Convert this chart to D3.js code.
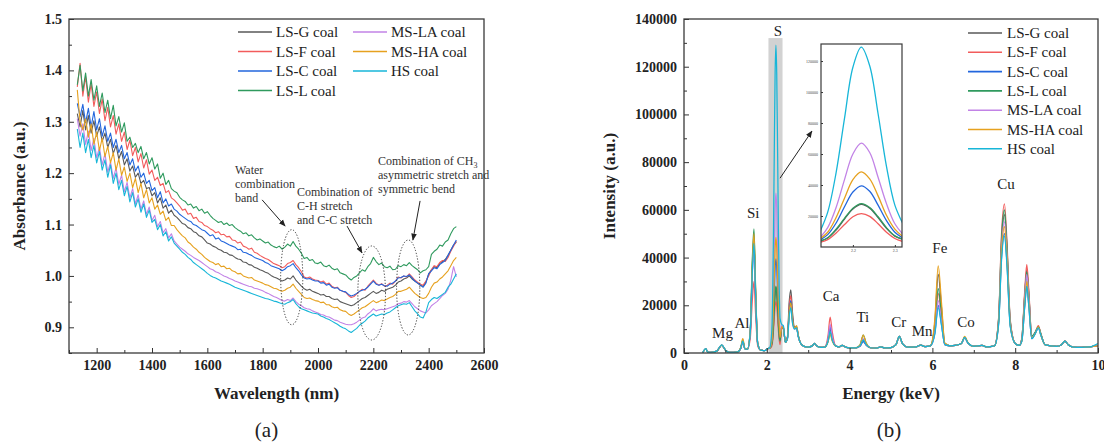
<!DOCTYPE html>
<html>
<head>
<meta charset="utf-8">
<script src="https://cdn.jsdelivr.net/npm/d3@7"></script>
<style>
  body { margin: 0; background: #fff; }
  svg { display: block; font-family: "Liberation Serif", "Times New Roman", serif; }
</style>
</head>
<body>
<div id="chart"></div>
<script>
const serif = "'Liberation Serif', 'Times New Roman', serif";

// ---------- shared series info ----------
const seriesNames = ["LS-G coal", "LS-F coal", "LS-C coal", "LS-L coal", "MS-LA coal", "MS-HA coal", "HS coal"];
const seriesColors = ["#595959", "#f25c5c", "#2266dd", "#2f9a5e", "#c283e6", "#e6a11f", "#17b6d8"];

// ---------- panel (a): NIR absorbance, sampled every 10 nm from 1130 to 2500 ----------
const wavelengths = d3.range(1130, 2501, 10);
const absLSG = [1.316,1.29,1.322,1.284,1.312,1.278,1.302,1.272,1.29,1.262,1.278,1.25,1.266,1.238,1.254,1.228,1.242,1.216,1.228,1.204,1.214,1.192,1.2,1.18,1.186,1.17,1.172,1.156,1.162,1.142,1.152,1.132,1.138,1.122,1.128,1.118,1.114,1.108,1.102,1.1,1.094,1.092,1.086,1.084,1.078,1.076,1.07,1.064,1.062,1.058,1.056,1.052,1.05,1.046,1.045,1.041,1.04,1.036,1.033,1.032,1.027,1.026,1.022,1.021,1.017,1.015,1.012,1.01,1.007,1.005,1.001,0.998,0.996,0.993,0.99,0.992,0.996,0.994,1.0,0.992,0.986,0.98,0.975,0.972,0.974,0.97,0.968,0.966,0.963,0.964,0.96,0.96,0.956,0.954,0.955,0.95,0.948,0.946,0.944,0.942,0.944,0.948,0.952,0.956,0.958,0.962,0.966,0.97,0.966,0.968,0.972,0.97,0.974,0.976,0.978,0.982,0.988,0.99,0.994,0.996,1.0,0.994,0.99,0.986,0.982,0.98,0.988,1.004,1.012,1.018,1.016,1.024,1.028,1.032,1.04,1.05,1.06,1.066];
const absLSF = [1.368,1.414,1.35,1.388,1.338,1.374,1.33,1.358,1.316,1.344,1.302,1.328,1.29,1.312,1.276,1.296,1.262,1.28,1.246,1.264,1.234,1.25,1.222,1.238,1.21,1.226,1.198,1.206,1.186,1.192,1.176,1.18,1.162,1.166,1.152,1.148,1.142,1.136,1.128,1.13,1.12,1.122,1.112,1.114,1.106,1.104,1.098,1.096,1.092,1.089,1.084,1.086,1.08,1.081,1.076,1.077,1.07,1.069,1.064,1.066,1.058,1.056,1.052,1.054,1.046,1.044,1.04,1.037,1.034,1.032,1.028,1.024,1.022,1.02,1.016,1.018,1.024,1.026,1.03,1.022,1.016,1.008,0.998,0.996,0.998,0.994,0.992,0.991,0.988,0.99,0.984,0.986,0.98,0.977,0.978,0.972,0.97,0.968,0.962,0.958,0.96,0.965,0.97,0.974,0.972,0.98,0.986,0.992,0.986,0.982,0.985,0.98,0.982,0.986,0.984,0.99,0.998,0.996,1.0,0.998,1.004,0.998,0.992,0.988,0.984,0.982,0.99,1.0,1.012,1.02,1.018,1.026,1.03,1.028,1.036,1.048,1.058,1.068];
const absLSC = [1.336,1.31,1.334,1.298,1.326,1.29,1.32,1.284,1.306,1.272,1.292,1.262,1.278,1.25,1.266,1.24,1.254,1.228,1.24,1.216,1.228,1.204,1.214,1.192,1.2,1.18,1.186,1.166,1.172,1.152,1.164,1.142,1.15,1.136,1.14,1.13,1.126,1.12,1.116,1.112,1.108,1.106,1.1,1.098,1.094,1.09,1.088,1.083,1.078,1.08,1.072,1.074,1.068,1.066,1.063,1.06,1.058,1.056,1.051,1.052,1.046,1.045,1.042,1.04,1.036,1.034,1.032,1.03,1.026,1.024,1.02,1.018,1.016,1.014,1.01,1.013,1.018,1.02,1.024,1.016,1.01,1.002,0.996,0.994,0.995,0.992,0.99,0.99,0.986,0.987,0.982,0.984,0.978,0.976,0.977,0.972,0.97,0.969,0.964,0.961,0.963,0.966,0.97,0.972,0.974,0.978,0.984,0.99,0.984,0.982,0.984,0.981,0.98,0.984,0.986,0.99,0.996,0.997,1.0,0.999,1.002,0.996,0.99,0.986,0.982,0.978,0.986,1.004,1.01,1.016,1.014,1.022,1.026,1.03,1.04,1.05,1.06,1.07];
const absLSL = [1.372,1.41,1.36,1.395,1.35,1.382,1.342,1.37,1.33,1.356,1.318,1.342,1.306,1.332,1.292,1.31,1.28,1.298,1.262,1.27,1.25,1.258,1.24,1.252,1.228,1.24,1.218,1.23,1.208,1.218,1.19,1.2,1.178,1.186,1.17,1.165,1.162,1.153,1.148,1.145,1.138,1.14,1.132,1.135,1.127,1.13,1.122,1.125,1.118,1.112,1.108,1.104,1.106,1.1,1.103,1.098,1.1,1.094,1.09,1.087,1.082,1.084,1.078,1.08,1.074,1.07,1.072,1.068,1.064,1.066,1.06,1.057,1.055,1.058,1.052,1.056,1.062,1.058,1.067,1.058,1.052,1.044,1.034,1.036,1.03,1.032,1.025,1.024,1.027,1.02,1.018,1.021,1.015,1.012,1.014,1.006,1.004,1.002,0.996,0.992,0.997,1.0,1.006,1.012,1.009,1.018,1.024,1.036,1.028,1.022,1.025,1.018,1.016,1.019,1.012,1.013,1.02,1.018,1.022,1.02,1.026,1.02,1.016,1.012,1.006,1.01,1.012,1.018,1.042,1.048,1.052,1.06,1.058,1.066,1.07,1.082,1.092,1.096];
const absMSLA = [1.306,1.272,1.296,1.256,1.282,1.244,1.268,1.23,1.25,1.216,1.238,1.202,1.222,1.19,1.21,1.178,1.196,1.164,1.182,1.152,1.17,1.14,1.158,1.13,1.146,1.12,1.134,1.108,1.118,1.096,1.106,1.084,1.092,1.074,1.082,1.068,1.062,1.056,1.052,1.048,1.043,1.04,1.036,1.033,1.03,1.026,1.022,1.018,1.014,1.012,1.008,1.006,1.003,1.0,0.998,0.995,0.993,0.99,0.988,0.986,0.984,0.982,0.98,0.979,0.976,0.975,0.973,0.971,0.968,0.966,0.963,0.96,0.958,0.955,0.952,0.951,0.954,0.952,0.957,0.95,0.945,0.942,0.938,0.936,0.935,0.932,0.93,0.928,0.925,0.924,0.921,0.92,0.917,0.914,0.913,0.91,0.908,0.906,0.905,0.905,0.907,0.91,0.914,0.918,0.92,0.926,0.93,0.936,0.932,0.934,0.935,0.934,0.936,0.938,0.94,0.942,0.946,0.947,0.95,0.949,0.952,0.946,0.94,0.936,0.932,0.93,0.928,0.934,0.942,0.946,0.95,0.956,0.962,0.966,0.974,0.992,1.018,0.998];
const absMSHA = [1.362,1.3,1.284,1.306,1.27,1.296,1.256,1.28,1.244,1.268,1.232,1.252,1.22,1.24,1.206,1.228,1.196,1.212,1.184,1.2,1.172,1.19,1.162,1.18,1.152,1.168,1.142,1.152,1.13,1.138,1.12,1.126,1.108,1.114,1.098,1.098,1.09,1.084,1.078,1.074,1.066,1.062,1.056,1.052,1.046,1.042,1.036,1.032,1.028,1.026,1.022,1.024,1.018,1.019,1.014,1.015,1.01,1.008,1.004,1.005,1.0,0.998,0.996,0.997,0.992,0.99,0.988,0.986,0.983,0.982,0.979,0.976,0.975,0.972,0.97,0.972,0.976,0.978,0.984,0.976,0.97,0.964,0.958,0.956,0.957,0.954,0.952,0.951,0.948,0.949,0.944,0.944,0.94,0.938,0.939,0.934,0.932,0.931,0.926,0.923,0.926,0.93,0.934,0.938,0.94,0.944,0.948,0.952,0.948,0.95,0.953,0.952,0.955,0.958,0.96,0.964,0.97,0.97,0.972,0.974,0.978,0.972,0.966,0.962,0.958,0.956,0.958,0.966,0.978,0.986,0.988,0.994,0.998,1.004,1.01,1.02,1.03,1.036];
const absHS = [1.286,1.25,1.278,1.24,1.266,1.23,1.254,1.22,1.242,1.206,1.226,1.192,1.216,1.18,1.2,1.168,1.186,1.156,1.174,1.144,1.162,1.134,1.15,1.124,1.14,1.114,1.128,1.104,1.11,1.09,1.1,1.078,1.086,1.068,1.076,1.064,1.058,1.052,1.046,1.042,1.036,1.032,1.026,1.022,1.018,1.014,1.01,1.005,1.001,0.998,0.996,0.993,0.99,0.988,0.986,0.984,0.981,0.978,0.976,0.974,0.972,0.97,0.968,0.966,0.964,0.962,0.96,0.958,0.956,0.955,0.953,0.951,0.95,0.948,0.946,0.945,0.948,0.95,0.954,0.946,0.94,0.936,0.934,0.932,0.93,0.928,0.927,0.926,0.922,0.92,0.917,0.915,0.912,0.909,0.906,0.902,0.899,0.897,0.893,0.89,0.894,0.898,0.904,0.908,0.912,0.918,0.922,0.926,0.922,0.924,0.926,0.925,0.928,0.93,0.934,0.938,0.942,0.944,0.946,0.945,0.948,0.94,0.932,0.926,0.92,0.918,0.93,0.948,0.954,0.958,0.956,0.96,0.964,0.968,0.978,0.984,0.994,1.004];
const absSeries = [absLSG, absLSF, absLSC, absLSL, absMSLA, absMSHA, absHS];

const absXTicks = [1200, 1400, 1600, 1800, 2000, 2200, 2400, 2600];
const absXMinor = [1100, 1300, 1500, 1700, 1900, 2100, 2300, 2500];
const absYTicks = [0.9, 1.0, 1.1, 1.2, 1.3, 1.4, 1.5];
const absYMinor = [0.85, 0.95, 1.05, 1.15, 1.25, 1.35, 1.45];

// annotation anchors in data units (wavelength nm, absorbance)
const absNotes = [
  { lines: ["Water", "combination", "band"], at: [1700, 1.198] },
  { lines: ["Combination of", "C-H stretch", "and C-C stretch"], at: [1924, 1.156] },
  { lines: ["Combination of CH|3", "asymmetric stretch and", "symmetric bend"], at: [2217, 1.216] }
];
const absArrows = [
  [[1798, 1.148], [1881, 1.097]],
  [[2105, 1.097], [2159, 1.045]],
  [[2369, 1.146], [2343, 1.070]]
];
// dotted ellipses: centre (nm, abs), half-width (nm), half-height (abs)
const absEllipses = [
  [1905, 0.9975, 40, 0.0925],
  [2194, 0.9668, 50, 0.0915],
  [2326, 0.9775, 42, 0.0924]
];

// ---------- panel (b): EDS spectra ----------
const energy = [0.45,0.5,0.53,0.56,0.6,0.7,0.8,0.86,0.91,0.96,1.02,1.1,1.2,1.3,1.37,1.42,1.47,1.53,1.6,1.65,1.69,1.73,1.78,1.85,1.95,2.02,2.07,
  2.12,2.14,2.16,2.18,2.2,2.22,2.24,2.26,2.28,2.3,2.32,
  2.36,2.4,2.45,2.5,2.54,2.58,2.62,2.67,2.72,2.76,2.82,2.9,3.0,3.1,3.15,3.2,3.3,3.4,3.48,3.53,3.58,3.66,3.75,3.82,3.9,4.0,4.15,4.25,4.33,4.4,4.5,4.65,4.75,4.85,5.0,5.12,5.2,5.28,5.4,5.6,5.72,5.82,
  5.95,6.06,6.14,6.22,6.3,6.45,6.55,6.7,6.78,6.86,7.0,7.2,7.3,7.5,7.6,7.67,7.74,7.8,7.88,8.0,8.1,8.16,8.23,8.28,8.33,8.4,8.48,8.56,8.62,8.72,8.85,9.0,9.12,9.2,9.28,9.4,9.6,9.8,10.0];
const edsLSG = [0,1400,1700,600,300,400,900,2400,3300,2300,800,300,300,500,2000,5000,1800,1500,9000,36000,48000,25000,4000,1200,1000,1800,2000,
  3500,5800,11000,18000,24500,27500,25000,19000,12000,7000,4800,
  11000,10500,4500,7000,21000,26500,17000,11000,11000,7500,4000,2800,2500,3000,4000,3000,2400,2500,5500,10000,6000,3000,2600,3200,2500,2200,2200,3000,5500,3500,2200,2000,2600,2100,2300,3500,7000,3800,2500,2600,3300,2700,
  3000,13000,33000,19000,4000,3000,3200,4000,6500,4200,2800,3200,2600,3000,14000,46000,58000,44000,13000,4000,3200,6000,24500,35000,24500,7000,8500,11000,8000,3500,3000,2800,3500,5000,3500,2500,2400,2600,3000];
const edsLSF = [0,1400,1700,600,300,400,900,2400,3300,2300,800,300,300,500,1900,4500,1800,1500,6000,22000,30000,16000,3000,1200,1000,1800,1900,
  2800,4800,9000,14500,19500,21500,19800,15000,9500,5500,3500,
  10500,10000,4500,6500,19000,24000,15500,10500,10500,7000,4000,2800,2500,3000,4000,3000,2400,2500,7500,15000,9000,3000,2600,3200,2500,2200,2200,2800,5000,3300,2200,2000,2600,2100,2300,3500,7000,3800,2500,2600,3300,2700,
  3000,10000,25000,15000,3500,3000,3200,4000,6500,4200,2800,3200,2600,3000,15000,50000,62500,47000,14000,4000,3200,6000,26000,37000,26000,7000,8500,11500,8000,3500,3000,2800,3500,5000,3500,2500,2400,2600,3000];
const edsLSC = [0,1400,1700,600,300,400,900,2400,3300,2300,800,300,300,500,2000,5000,1800,1500,8500,34000,46000,24000,4000,1200,1000,1800,2000,
  4300,8000,15500,26000,35500,39500,36000,27000,17000,9500,5600,
  11000,10500,4500,6500,17000,22000,14500,10500,10500,7000,4000,2800,2500,3000,4000,3000,2400,2500,5500,11000,6500,3000,2600,3200,2500,2200,2200,2800,4800,3300,2200,2000,2600,2100,2300,3500,7000,3800,2500,2600,3300,2700,
  3000,8500,20000,12000,3500,3000,3200,4000,6500,4200,2800,3200,2600,3000,12500,40000,50000,38000,11500,4000,3200,5000,19500,28000,19500,6000,8000,10500,7500,3500,3000,2800,3500,5000,3500,2500,2400,2600,3000];
const edsLSL = [0,1400,1700,600,300,400,900,2400,3300,2300,800,300,300,500,2100,5500,1900,1500,9500,39000,52000,27000,4200,1200,1000,1800,2000,
  3700,6000,11500,18500,25000,28000,25500,19500,12500,7200,5000,
  11000,10500,4500,6500,16500,21000,14000,10500,10500,7000,4000,2800,2500,3000,4000,3000,2400,2500,4800,8500,5500,3000,2600,3200,2500,2200,2200,3300,7500,4200,2200,2000,2600,2100,2300,3500,7000,3800,2500,2600,3300,2700,
  3000,11000,27000,16000,3800,3000,3200,4000,6500,4200,2800,3200,2600,3000,14500,48000,60000,45000,13500,4000,3200,6000,24000,34000,24000,7000,8500,11000,8000,3500,3000,2800,3500,5000,3500,2500,2400,2600,3000];
const edsMSLA = [0,1400,1700,600,300,400,900,2400,3300,2300,800,300,300,500,2000,5000,1800,1500,8500,33000,45000,23500,4000,1200,1000,1800,2100,
  5500,12500,25500,43500,60000,67000,61000,45000,28000,15000,8000,
  11500,11000,4500,6000,15500,20000,13000,10000,10500,7000,4000,2800,2500,3000,4000,3000,2400,2500,6000,12000,7000,3000,2600,3200,2500,2200,2200,3000,6000,3600,2200,2000,2600,2100,2300,3500,7000,3800,2500,2600,3300,2700,
  3000,9000,22000,13000,3600,3000,3200,4000,6500,4200,2800,3200,2600,3000,13500,44000,55000,41500,12500,4000,3200,5500,23000,33000,23000,6500,8000,10500,7500,3500,3000,2800,3500,5000,3500,2500,2400,2600,3000];
const edsMSHA = [0,1400,1700,600,300,400,900,2400,3300,2300,800,300,300,500,2300,6000,2000,1500,9000,37000,50000,26000,4200,1200,1000,1800,2000,
  5000,9500,19000,31500,43500,48500,44000,33000,20500,11500,6500,
  11000,10500,4500,6500,16500,21000,14000,10500,11500,7500,4000,2800,2500,3000,4000,3000,2400,2500,4800,8000,5000,3000,2600,3200,2500,2200,2200,3300,7500,4200,2200,2000,2600,2100,2300,3500,7000,3800,2500,2600,3300,2700,
  3000,14500,36500,21000,4200,3000,3200,4000,7000,4400,2800,3200,2600,3000,13000,42500,53000,40000,12000,4000,3200,5000,21000,30000,21000,6500,8000,11000,7500,3500,3000,2800,3500,5000,3500,2500,2400,2600,3000];
const edsHS = [0,1500,1800,600,300,400,900,2500,3400,2400,800,300,300,500,2000,5000,1800,1500,8500,34000,46000,24000,4000,1200,1000,1800,2200,
  9000,22500,48000,83000,116000,129000,117000,86000,52000,27000,14500,
  12000,11500,4500,6000,15000,19000,12500,10000,10500,7000,4000,2800,2500,3000,4000,3000,2400,2500,5000,9000,5500,3000,2600,3200,2500,2200,2200,3000,5500,3500,2200,2000,2600,2100,2300,3500,7000,3800,2500,2600,3300,2700,
  3000,8000,19000,11500,3500,3000,3200,4000,6500,4200,2800,3200,2600,3000,12000,39000,49000,37000,11000,4000,3200,5000,19500,28000,19500,6000,8000,10500,7500,3500,3000,2800,3500,5000,3500,2500,2400,2600,4000];
const edsSeries = [edsLSG, edsLSF, edsLSC, edsLSL, edsMSLA, edsMSHA, edsHS];

const edsXTicks = [0, 2, 4, 6, 8, 10];
const edsXMinor = [1, 3, 5, 7, 9];
const edsYTicks = [0, 20000, 40000, 60000, 80000, 100000, 120000, 140000];
const edsYMinor = [10000, 30000, 50000, 70000, 90000, 110000, 130000];
const insetYTicks = [20000, 40000, 60000, 80000, 100000, 120000];
const insetXTicks = [2.2, 2.3];

// element labels: [text, energy keV, intensity at text baseline]
const edsLabels = [
  ["Mg", 0.93, 6300], ["Al", 1.40, 10500], ["Si", 1.67, 56600], ["S", 2.27, 132900],
  ["Ca", 3.55, 21600], ["Ti", 4.32, 12800], ["Cr", 5.19, 10900], ["Mn", 5.75, 7100],
  ["Fe", 6.18, 41900], ["Co", 6.81, 10900], ["Cu", 7.78, 68700]
];
const sBand = [2.04, 2.38, 132000];          // highlighted S region (keV from, keV to, top)
const insetArrow = [[2.32, 73300], [3.09, 93000]];

// ---------- drawing ----------
const W = 1104, H = 442;
const svg = d3.select("#chart").append("svg").attr("width", W).attr("height", H);
svg.append("rect").attr("width", W).attr("height", H).attr("fill", "#fff");

const defs = svg.append("defs");
defs.append("marker")
  .attr("id", "arrow").attr("viewBox", "0 0 10 10")
  .attr("refX", 9).attr("refY", 5)
  .attr("markerWidth", 7).attr("markerHeight", 7)
  .attr("orient", "auto")
  .append("path").attr("d", "M0,1 L10,5 L0,9 z").attr("fill", "#222");

function clip(id, box) {
  defs.append("clipPath").attr("id", id)
    .append("rect")
    .attr("x", box.left).attr("y", box.top)
    .attr("width", box.right - box.left).attr("height", box.bottom - box.top);
}

function styleTicks(g) {
  g.select(".domain").remove();
  g.selectAll("line").attr("stroke", "#333").attr("stroke-width", 1);
  g.selectAll("text")
    .attr("fill", "#222")
    .style("font-family", serif)
    .style("font-size", "14px")
    .style("font-weight", "bold");
}

function drawAxes(x, y, box, xt, xm, yt, ym, xfmt, yfmt) {
  const g = svg.append("g");
  g.append("g").attr("transform", `translate(0,${box.bottom})`)
    .call(d3.axisBottom(x).tickValues(xm).tickSize(-3).tickFormat(""))
    .call(styleTicks);
  g.append("g").attr("transform", `translate(0,${box.bottom})`)
    .call(d3.axisBottom(x).tickValues(xt).tickSize(-5).tickPadding(7).tickFormat(xfmt))
    .call(styleTicks);
  g.append("g").attr("transform", `translate(${box.left},0)`)
    .call(d3.axisLeft(y).tickValues(ym).tickSize(-3).tickFormat(""))
    .call(styleTicks);
  g.append("g").attr("transform", `translate(${box.left},0)`)
    .call(d3.axisLeft(y).tickValues(yt).tickSize(-5).tickPadding(7).tickFormat(yfmt))
    .call(styleTicks);
  svg.append("rect")
    .attr("x", box.left).attr("y", box.top)
    .attr("width", box.right - box.left).attr("height", box.bottom - box.top)
    .attr("fill", "none").attr("stroke", "#3a3a3a").attr("stroke-width", 1.3);
}

function axisTitle(text, x, y, rotate) {
  svg.append("text")
    .attr("transform", `translate(${x},${y})${rotate ? " rotate(-90)" : ""}`)
    .attr("text-anchor", "middle")
    .attr("fill", "#222")
    .style("font-family", serif)
    .style("font-size", "17px")
    .style("font-weight", "bold")
    .text(text);
}

function label(x, y, txt, size, anchor) {
  return svg.append("text")
    .attr("x", x).attr("y", y)
    .attr("text-anchor", anchor || "start")
    .attr("fill", "#222")
    .style("font-family", serif)
    .style("font-size", size + "px")
    .text(txt);
}

// ===== panel (a) =====
const boxA = { left: 69, right: 484, top: 19, bottom: 353 };
const xA = d3.scaleLinear().domain([1100, 2600]).range([boxA.left, boxA.right]);
const yA = d3.scaleLinear().domain([0.85, 1.5]).range([boxA.bottom, boxA.top]);
clip("clipA", boxA);

const lineA = d3.line().x(d => xA(d[0])).y(d => yA(d[1]));
const gA = svg.append("g").attr("clip-path", "url(#clipA)");
absSeries.forEach((vals, i) => {
  gA.append("path")
    .datum(d3.zip(wavelengths, vals))
    .attr("fill", "none")
    .attr("stroke", seriesColors[i])
    .attr("stroke-width", 1.1)
    .attr("stroke-linejoin", "round")
    .attr("d", lineA);
});

drawAxes(xA, yA, boxA, absXTicks, absXMinor, absYTicks, absYMinor, d3.format("d"), d3.format(".1f"));
axisTitle("Wavelength (nm)", (boxA.left + boxA.right) / 2, 399, false);
axisTitle("Absorbance (a.u.)", 25, (boxA.top + boxA.bottom) / 2, true);

// legend (a): two columns
seriesNames.forEach((name, i) => {
  const col = i < 4 ? 0 : 1;
  const row = i < 4 ? i : i - 4;
  const x0 = [238, 353][col];
  const yb = 37 + row * 19.5;
  svg.append("line")
    .attr("x1", x0).attr("x2", x0 + 34)
    .attr("y1", yb - 5).attr("y2", yb - 5)
    .attr("stroke", seriesColors[i]).attr("stroke-width", 1.6);
  label(x0 + 38, yb, name, 15);
});

// annotations (a)
absEllipses.forEach(([cx, cy, rx, ry]) => {
  svg.append("ellipse")
    .attr("cx", xA(cx)).attr("cy", yA(cy))
    .attr("rx", xA(cx + rx) - xA(cx)).attr("ry", yA(cy - ry) - yA(cy))
    .attr("fill", "none")
    .attr("stroke", "#333")
    .attr("stroke-width", 1)
    .attr("stroke-dasharray", "1.2,1.8");
});
absArrows.forEach(([a, b]) => {
  svg.append("line")
    .attr("x1", xA(a[0])).attr("y1", yA(a[1]))
    .attr("x2", xA(b[0])).attr("y2", yA(b[1]))
    .attr("stroke", "#222").attr("stroke-width", 1)
    .attr("marker-end", "url(#arrow)");
});
absNotes.forEach(note => {
  const t = svg.append("text")
    .attr("fill", "#333")
    .style("font-family", serif)
    .style("font-size", "12px");
  note.lines.forEach((ln, k) => {
    const y = yA(note.at[1]) + k * 14;
    const parts = ln.split("|");
    t.append("tspan").attr("x", xA(note.at[0])).attr("y", y).text(parts[0]);
    if (parts[1]) {
      t.append("tspan").attr("dy", 3).style("font-size", "8px").text(parts[1]);
    }
  });
});

label((boxA.left + boxA.right) / 2 - 10, 437, "(a)", 21, "middle");

// ===== panel (b) =====
const boxB = { left: 684, right: 1098, top: 19, bottom: 353 };
const xB = d3.scaleLinear().domain([0, 10]).range([boxB.left, boxB.right]);
const yB = d3.scaleLinear().domain([0, 140000]).range([boxB.bottom, boxB.top]);
clip("clipB", boxB);

svg.append("rect")
  .attr("x", xB(sBand[0])).attr("y", yB(sBand[2]))
  .attr("width", xB(sBand[1]) - xB(sBand[0]))
  .attr("height", yB(0) - yB(sBand[2]))
  .attr("fill", "#d2d2d2");

const lineB = d3.line().x(d => xB(d[0])).y(d => yB(d[1])).curve(d3.curveMonotoneX);
const gB = svg.append("g").attr("clip-path", "url(#clipB)");
edsSeries.forEach((vals, i) => {
  gB.append("path")
    .datum(d3.zip(energy, vals))
    .attr("fill", "none")
    .attr("stroke", seriesColors[i])
    .attr("stroke-width", 1.25)
    .attr("stroke-linejoin", "round")
    .attr("d", lineB);
});

drawAxes(xB, yB, boxB, edsXTicks, edsXMinor, edsYTicks, edsYMinor, d3.format("d"), d3.format("d"));
axisTitle("Energy (keV)", (boxB.left + boxB.right) / 2, 399, false);
axisTitle("Intensity (a.u.)", 615, (boxB.top + boxB.bottom) / 2, true);

// element labels
edsLabels.forEach(([txt, e, v]) => label(xB(e), yB(v), txt, 15, "middle"));

// legend (b)
seriesNames.forEach((name, i) => {
  const yb = 38 + i * 19.3;
  svg.append("line")
    .attr("x1", 968).attr("x2", 1002)
    .attr("y1", yb - 5).attr("y2", yb - 5)
    .attr("stroke", seriesColors[i]).attr("stroke-width", 1.6);
  label(1007, yb, name, 15);
});

// arrow to inset
svg.append("line")
  .attr("x1", xB(insetArrow[0][0])).attr("y1", yB(insetArrow[0][1]))
  .attr("x2", xB(insetArrow[1][0])).attr("y2", yB(insetArrow[1][1]))
  .attr("stroke", "#222").attr("stroke-width", 1)
  .attr("marker-end", "url(#arrow)");

// inset: zoom on the S peak
const boxI = { left: 821, right: 902, top: 44, bottom: 247 };
const xI = d3.scaleLinear().domain([2.124, 2.317]).range([boxI.left, boxI.right]);
const yI = d3.scaleLinear().domain([0, 131000]).range([boxI.bottom, boxI.top]);
clip("clipI", boxI);
svg.append("rect")
  .attr("x", boxI.left).attr("y", boxI.top)
  .attr("width", boxI.right - boxI.left).attr("height", boxI.bottom - boxI.top)
  .attr("fill", "#fff");
const lineI = d3.line().x(d => xI(d[0])).y(d => yI(d[1])).curve(d3.curveCatmullRom.alpha(0.5));
const gI = svg.append("g").attr("clip-path", "url(#clipI)");
edsSeries.forEach((vals, i) => {
  const pts = d3.zip(energy, vals).filter(d => d[0] >= 2.1 && d[0] <= 2.34);
  gI.append("path")
    .datum(pts)
    .attr("fill", "none")
    .attr("stroke", seriesColors[i])
    .attr("stroke-width", 1.3)
    .attr("d", lineI);
});
const gIx = svg.append("g").attr("transform", `translate(0,${boxI.bottom})`)
  .call(d3.axisBottom(xI).tickValues(insetXTicks).tickSize(-2).tickPadding(2).tickFormat(d3.format(".1f")));
const gIy = svg.append("g").attr("transform", `translate(${boxI.left},0)`)
  .call(d3.axisLeft(yI).tickValues(insetYTicks).tickSize(-2).tickPadding(3).tickFormat(d3.format("d")));
[gIx, gIy].forEach(g => {
  g.select(".domain").remove();
  g.selectAll("line").attr("stroke", "#333");
  g.selectAll("text").attr("fill", "#444").style("font-size", "4px").style("font-family", serif);
});
svg.append("rect")
  .attr("x", boxI.left).attr("y", boxI.top)
  .attr("width", boxI.right - boxI.left).attr("height", boxI.bottom - boxI.top)
  .attr("fill", "none").attr("stroke", "#3a3a3a").attr("stroke-width", 1.2);

label((boxB.left + boxB.right) / 2 - 2, 437, "(b)", 21, "middle");
</script>
</body>
</html>
